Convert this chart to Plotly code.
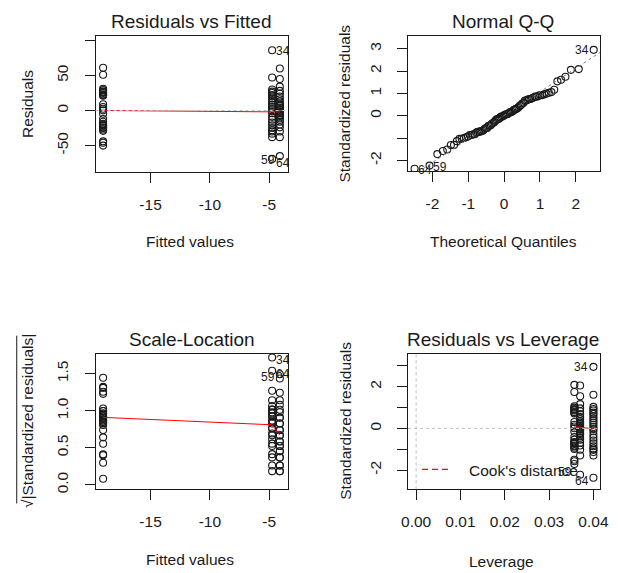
import numpy as np
import plotly.graph_objects as go
from statistics import NormalDist

# ---------------- data ----------------
fitted_levels = [-19.0, -4.75, -4.1]          # fitted value of each group
hat_values = [0.0357, 0.0400, 0.0370]          # leverage of each group
res_left = [61, 51, 31, 29, 27, 26, 25, 23, 22, 21, 9, 5, 2.6, 0.2,
            -4.7, -12, -16, -19, -20, -21, -22, -24, -25, -27, -29, -44, -46, -50]
res_mid = [86, 47, 30, 27, 25, 22, 20, 17, 14, 11, 8, 5, 2,
           -1, -4, -9, -13, -17, -21, -25, -28, -30, -33, -38, -69]
res_right = [60, 45, 34, 28, 24, 20, 16, 13, 10, 8, 6, 4, 2, 1,
             -1, -2, -4, -6, -8, -10, -13, -16, -20, -24, -30, -38, -65]
sigma = 29.75                                   # residual standard error

smooth_rf = [0.0, -2.0, -2.0]      # lowess, residuals vs fitted (at sorted fitted)
smooth_sl = [0.91, 0.81, 0.67]     # lowess, scale-location
smooth_lev = [0.08, 0.04, -0.02]   # lowess, residuals vs leverage (at sorted leverage)

id_labels = ["34", "64", "59"]
id_group = [1, 1, 2]
id_pos = [0, 24, 26]

# ---------------- derived quantities ----------------
groups = [res_left, res_mid, res_right]
fitted = np.concatenate([[fitted_levels[g]] * len(r) for g, r in enumerate(groups)])
lev = np.concatenate([[hat_values[g]] * len(r) for g, r in enumerate(groups)])
res = np.concatenate([np.array(r, float) for r in groups])
std = res / (sigma * np.sqrt(1 - lev))
sqrt_abs = np.sqrt(np.abs(std))
n = len(res)
nd = NormalDist()
order = np.argsort(std)
theo = np.empty(n)
theo[order] = [nd.inv_cdf((i + 0.5) / n) for i in range(n)]
yq = np.quantile(std, [0.25, 0.75])
xq = np.array([nd.inv_cdf(0.25), nd.inv_cdf(0.75)])
qq_slope = (yq[1] - yq[0]) / (xq[1] - xq[0])
qq_int = yq[0] - qq_slope * xq[0]

offsets = np.cumsum([0] + [len(r) for r in groups])
id_idx = [offsets[g] + p for g, p in zip(id_group, id_pos)]

W, H = 618, 573
FONT = "Liberation Sans, Arial, sans-serif"
BLACK = "#1a1a1a"

def px_x(p):
    return p / W

def px_y(p):
    return 1 - p / H

# panel boxes in pixels (left, right, top, bottom)
boxes = {
    1: (91, 288, 36, 173.3),
    2: (411.7, 609, 36, 172.7),
    3: (91, 288, 356, 492.7),
    4: (411.7, 608.3, 356, 492.7),
}

fig = go.Figure()

marker = dict(symbol="circle-open", size=7, color=BLACK, line=dict(width=1.1, color=BLACK))

# panel 1: residuals vs fitted
fig.add_trace(go.Scatter(x=fitted, y=res, mode="markers", marker=marker,
                         xaxis="x", yaxis="y", showlegend=False))
fx = sorted(fitted_levels)
fig.add_trace(go.Scatter(x=fx, y=smooth_rf, mode="lines", line=dict(color="red", width=1),
                         xaxis="x", yaxis="y", showlegend=False))
# panel 2: normal Q-Q
fig.add_trace(go.Scatter(x=theo, y=std, mode="markers", marker=marker,
                         xaxis="x2", yaxis="y2", showlegend=False))
# panel 3: scale-location
fig.add_trace(go.Scatter(x=fitted, y=sqrt_abs, mode="markers", marker=marker,
                         xaxis="x3", yaxis="y3", showlegend=False))
fig.add_trace(go.Scatter(x=fx, y=smooth_sl, mode="lines", line=dict(color="red", width=1),
                         xaxis="x3", yaxis="y3", showlegend=False))
# panel 4: residuals vs leverage
fig.add_trace(go.Scatter(x=lev, y=std, mode="markers", marker=marker,
                         xaxis="x4", yaxis="y4", showlegend=False))
lx = sorted(hat_values)
fig.add_trace(go.Scatter(x=lx, y=smooth_lev, mode="lines", line=dict(color="red", width=1),
                         xaxis="x4", yaxis="y4", showlegend=False))

ranges = {
    1: ([-19.63, -3.45], [-87.8, 106.6]),
    2: ([-2.68, 2.68], [-2.49, 3.58]),
    3: ([-19.63, -3.45], [-0.059, 1.771]),
    4: ([-0.00182, 0.04138], [-2.92, 3.59]),
}
xticks = {
    1: ([-15, -10, -5], ["-15", "-10", "-5"]),
    2: ([-2, -1, 0, 1, 2], ["-2", "-1", "0", "1", "2"]),
    3: ([-15, -10, -5], ["-15", "-10", "-5"]),
    4: ([0, 0.01, 0.02, 0.03, 0.04], ["0.00", "0.01", "0.02", "0.03", "0.04"]),
}
yticks = {
    1: ([-50, 0, 50, 100], ["-50", "0", "50", ""]),
    2: ([-2, -1, 0, 1, 2, 3], ["-2", "", "0", "1", "2", "3"]),
    3: ([0, 0.5, 1.0, 1.5], ["0.0", "0.5", "1.0", "1.5"]),
    4: ([-2, -1, 0, 1, 2, 3], ["-2", "", "0", "", "2", ""]),
}

layout = dict(width=W, height=H, margin=dict(l=0, r=0, t=0, b=0),
              paper_bgcolor="white", plot_bgcolor="white",
              font=dict(family=FONT, color=BLACK, size=15.5))
for k in range(1, 5):
    l, r, t, b = boxes[k]
    sx = "" if k == 1 else str(k)
    common = dict(showline=True, mirror=True, linecolor=BLACK, linewidth=1,
                  ticks="outside", ticklen=10, tickcolor=BLACK, tickwidth=1,
                  showgrid=False, zeroline=False, tickfont=dict(size=15.5, family=FONT, color=BLACK))
    layout["xaxis" + sx] = dict(domain=[px_x(l), px_x(r)], anchor="y" + sx,
                                range=ranges[k][0], tickvals=xticks[k][0], ticktext=xticks[k][1],
                                ticklabelstandoff=8, **common)
    layout["yaxis" + sx] = dict(domain=[px_y(b), px_y(t)], anchor="x" + sx,
                                range=ranges[k][1], tickvals=yticks[k][0], ticktext=yticks[k][1],
                                tickangle=-90, ticklabelstandoff=10, **common)
fig.update_layout(**layout)

shapes = []
# gray dotted reference lines (drawn above the points, as in R)
shapes.append(dict(type="line", xref="x domain", yref="y", x0=0, x1=1, y0=0, y1=0,
                   line=dict(color="#bebebe", width=1, dash="dot"), layer="above"))
shapes.append(dict(type="line", xref="x4 domain", yref="y4", x0=0, x1=1, y0=0, y1=0,
                   line=dict(color="#bebebe", width=1, dash="dot"), layer="above"))
shapes.append(dict(type="line", xref="x4", yref="y4 domain", x0=0, x1=0, y0=0, y1=1,
                   line=dict(color="#bebebe", width=1, dash="dot"), layer="above"))
qx0, qx1 = ranges[2][0]
shapes.append(dict(type="line", xref="x2", yref="y2", x0=qx0, x1=qx1,
                   y0=qq_int + qq_slope * qx0, y1=qq_int + qq_slope * qx1,
                   line=dict(color="#7f7f7f", width=1, dash="dot"), layer="above"))
# Cook's distance legend sample
shapes.append(dict(type="line", xref="paper", yref="paper", x0=px_x(426), x1=px_x(454),
                   y0=px_y(472.7), y1=px_y(472.7), line=dict(color="red", width=1.2, dash="6px,4px")))
# vinculum of the square root in the scale-location y label
shapes.append(dict(type="line", xref="paper", yref="paper", x0=px_x(10), x1=px_x(10),
                   y0=px_y(507), y1=px_y(338), line=dict(color=BLACK, width=1)))
fig.update_layout(shapes=shapes)

ann = []
def text(s, x, y, size=15.5, angle=0, xanchor="center"):
    ann.append(dict(text=s, x=px_x(x), y=px_y(y), xref="paper", yref="paper",
                    showarrow=False, xanchor=xanchor, yanchor="middle", textangle=angle,
                    font=dict(size=size, family=FONT, color=BLACK)))

text("Residuals vs Fitted", 189.5, 21.7, size=19)
text("Normal Q-Q", 509, 21.7, size=19)
text("Scale-Location", 189.5, 341.7, size=19)
text("Residuals vs Leverage", 509.5, 341.7, size=19)
text("Fitted values", 188, 243)
text("Theoretical Quantiles", 510, 243)
text("Fitted values", 188, 563)
text("Leverage", 508, 565)
text("Residuals", 21.7, 104.6, angle=-90)
text("Standardized residuals", 346.7, 104.6, angle=-90)
text("√|Standardized residuals|", 20.5, 424, angle=-90)
text("Standardized residuals", 346.7, 424, angle=-90)
text("Cook's distance", 472, 474, xanchor="left")

def idlab(xa, ya, xs, ys, shifts):
    for lab, i, (dx, dy) in zip(id_labels, id_idx, shifts):
        ann.append(dict(text=lab, x=xs[i], y=ys[i], xref=xa, yref=ya, showarrow=False,
                        xshift=dx, yshift=dy, font=dict(size=12, family=FONT, color=BLACK)))

idlab("x", "y", fitted, res, [(11, -1), (11, -4), (-12, -4)])
idlab("x2", "y2", theo, std, [(-12, 0), (10, -1), (10, -1)])
idlab("x3", "y3", fitted, sqrt_abs, [(11, -3), (11, -3), (-12, -3)])
idlab("x4", "y4", lev, std, [(-12, 0), (-11, -3), (-15, 3)])
fig.update_layout(annotations=ann)

fig.write_html("out.html", config={"displayModeBar": False},
               post_script="document.body.style.margin='0';document.body.style.overflow='hidden';")
